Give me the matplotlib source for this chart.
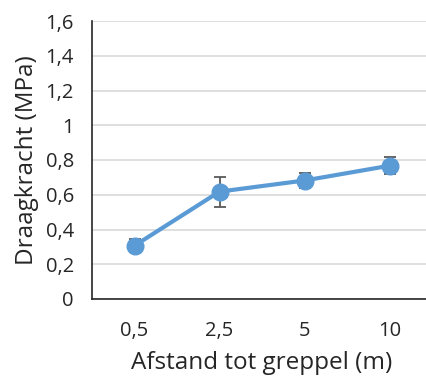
import matplotlib
matplotlib.use("Agg")
import matplotlib.pyplot as plt

# data
afstand = ["0,5", "2,5", "5", "10"]
draagkracht = [0.307, 0.618, 0.682, 0.767]
fout = [0.036, 0.087, 0.046, 0.049]
yticks = [0, 0.2, 0.4, 0.6, 0.8, 1.0, 1.2, 1.4, 1.6]
ylabels = ["0", "0,2", "0,4", "0,6", "0,8", "1", "1,2", "1,4", "1,6"]

plt.rcParams['font.family'] = ['Open Sans', 'DejaVu Sans']

fig = plt.figure(figsize=(4.26, 3.76), dpi=100)
ax = fig.add_axes([92/426, 77/376, 340/426, 278/376])

x = range(len(afstand))
ax.errorbar(x, draagkracht, yerr=fout, color='#5B9BD5', lw=3,
            marker='o', ms=12, ecolor='#595959', elinewidth=1.3,
            capsize=4.5, capthick=1.3, zorder=3)

ax.set_xlim(-0.5, len(afstand) - 0.5)
ax.set_ylim(0, 1.6)
ax.set_xticks(list(x))
ax.set_xticklabels(afstand)
ax.set_yticks(yticks)
ax.set_yticklabels(ylabels)
ax.tick_params(length=0, labelsize=14.5, colors='#262626')
ax.tick_params(axis='y', pad=13)
ax.tick_params(axis='x', pad=16)
ax.grid(axis='y', color='#D9D9D9', lw=1.2)
ax.set_axisbelow(True)
for s in ['top', 'right']:
    ax.spines[s].set_visible(False)
for s in ['left', 'bottom']:
    ax.spines[s].set_color('#262626')
    ax.spines[s].set_linewidth(1.2)

ax.set_xlabel("Afstand tot greppel (m)", fontsize=17.5, color='#262626', labelpad=7)
ax.set_ylabel("Draagkracht (MPa)", fontsize=17.5, color='#262626', labelpad=5)

fig.savefig("out.png", dpi=100)
